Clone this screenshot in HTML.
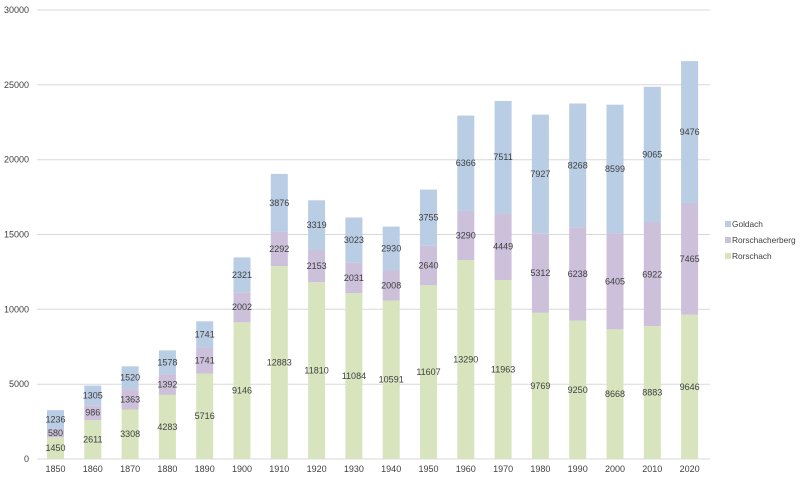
<!DOCTYPE html>
<html><head><meta charset="utf-8"><style>
html,body{margin:0;padding:0;background:#fff;width:800px;height:480px;overflow:hidden}
svg text{font-family:"Liberation Sans",sans-serif;fill:#404040}
</style></head><body>
<svg id="c" width="800" height="480" xmlns="http://www.w3.org/2000/svg"></svg>
<script>
var d=[[1850,1450,580,1236],[1860,2611,986,1305],[1870,3308,1363,1520],[1880,4283,1392,1578],[1890,5716,1741,1741],[1900,9146,2002,2321],[1910,12883,2292,3876],[1920,11810,2153,3319],[1930,11084,2031,3023],[1940,10591,2008,2930],[1950,11607,2640,3755],[1960,13290,3290,6366],[1970,11963,4449,7511],[1980,9769,5312,7927],[1990,9250,6238,8268],[2000,8668,6405,8599],[2010,8883,6922,9065],[2020,9646,7465,9476]];
var col=["#d7e4bd","#ccc0da","#b9cde5"];
function y(v){return 459-v*449/30000;}
var s='';
for(var g=0;g<=30000;g+=5000){var yy=y(g).toFixed(1);s+='<line x1="37" x2="710" y1="'+yy+'" y2="'+yy+'" stroke="#d9d9d9" stroke-width="1"/>';s+='<text x="29" y="'+(+yy+3)+'" font-size="9" text-anchor="end">'+g+'</text>';}
d.forEach(function(r,i){var cx=55.5+i*37.3,b=0;
for(var k=0;k<3;k++){var v=r[k+1],y0=y(b),y1=y(b+v);
s+='<rect x="'+(cx-8.5)+'" y="'+y1.toFixed(1)+'" width="17" height="'+(y0-y1).toFixed(1)+'" fill="'+col[k]+'"/>';
b+=v;}
b=0;for(var k=0;k<3;k++){var v=r[k+1],m=y(b+v/2);s+='<text x="'+cx+'" y="'+(m+3).toFixed(1)+'" font-size="9" text-anchor="middle">'+v+'</text>';b+=v;}
s+='<text x="'+cx+'" y="472" font-size="9" text-anchor="middle">'+r[0]+'</text>';});
var lg=[["Goldach",2,224],["Rorschacherberg",1,240],["Rorschach",0,256]];
lg.forEach(function(l){s+='<rect x="725" y="'+(l[2]-3)+'" width="6" height="6" fill="'+col[l[1]]+'"/><text x="732" y="'+(l[2]+3)+'" font-size="8.3">'+l[0]+'</text>';});
document.getElementById('c').innerHTML=s;
</script>
</body></html>
